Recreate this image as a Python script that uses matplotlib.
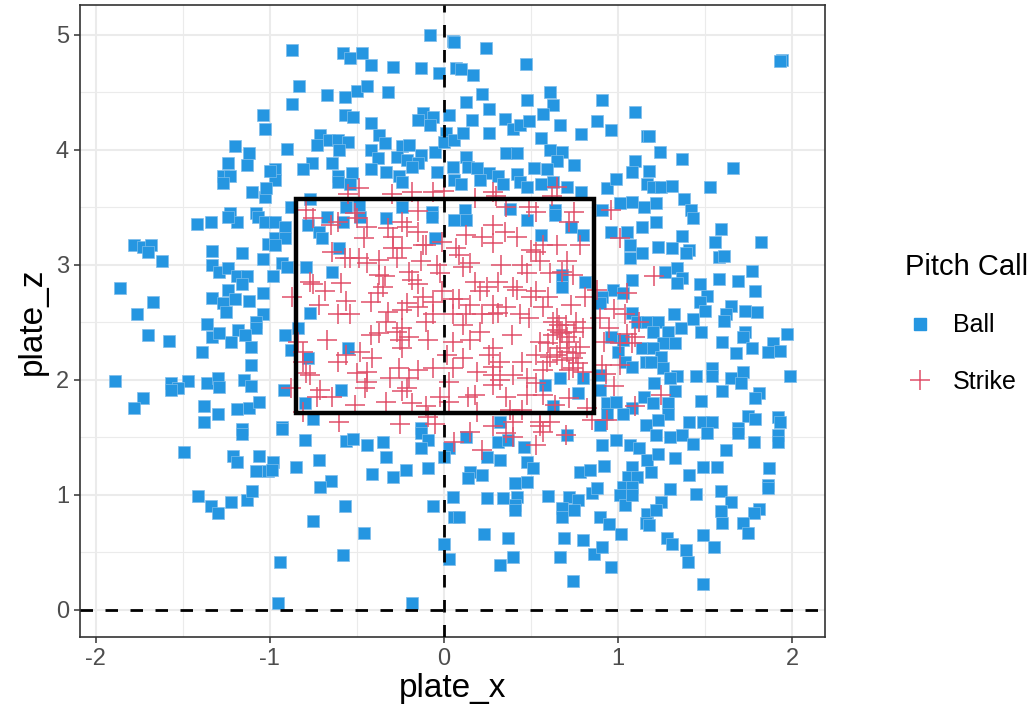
import matplotlib
matplotlib.use('Agg')
import matplotlib.pyplot as plt
from matplotlib.lines import Line2D
from matplotlib.patches import Rectangle
from matplotlib.ticker import MultipleLocator

BALL_COLOR = '#2596e1'
STRIKE_COLOR = '#e0506a'
GRID = '#ebebeb'
INK_2 = '#4d4d4d'

# strike zone edges (plate_x, plate_z)
ZONE_X = [-0.85, 0.86]
ZONE_Z = [1.71, 3.57]

ball_x = [
    1.94, -0.08, 0.05, -0.87, -0.58, -0.47, -0.54, -0.42, -0.29, -0.13, -0.03, 0.06, 0.07,
    -0.83, -0.67, -0.87, -0.57, -0.50, -0.44, -0.32, -0.57, -0.52, -0.42, -0.12, -0.06, -0.15,
    -0.08, 0.03, -0.37, -0.34, -0.71, -0.73, -0.66, -0.61, -0.55, -0.60, -0.90, -0.42, -0.38,
    -0.24, -0.20, -0.13, -0.27, -0.21, -0.15, -0.05, 0.01, 0.00, 0.06, -0.76, -0.81, -0.64,
    -0.42, -0.33, -0.26, -0.18, -0.04, 0.05, -0.61, -0.53, -0.61, -0.54, -0.24, 0.06, -0.97,
    -0.97, -0.88, -0.77, -0.56, -0.49, -0.24, -0.07,
    0.24, 0.47, 0.10, 0.17, 0.22, 0.13, 0.26, 0.48, 0.61, 0.63, 0.57, 0.91, 1.10, 0.35, 0.40,
    0.44, 0.49, 0.67, 0.88, 0.96, 0.79, 0.26, 0.16, 0.11, 0.56, 1.17, 0.36, 0.42, 0.61, 0.68,
    0.65, 0.13, 0.14, 0.19, 0.75, 0.52, 0.59, 1.10, 1.08, 0.26, 0.31, 0.21, 0.42, 0.34, 0.44,
    0.48, 0.56, 0.63, 0.71, 0.79, 0.94, 0.99, 1.17, 0.10, 1.01, 1.08, 1.15, 0.91, 0.64, 0.38,
    0.12,
    1.93, 1.18, 1.24, 1.37, 1.66, 1.18, 1.20, 1.25, 1.31, 1.53, 1.22, 1.38, 1.42,
    -1.04, -1.03, -1.20, -1.12, -1.13, -1.24, -1.27, -1.23, -1.27, -1.00, -1.10, -1.03, -1.02,
    -1.23, -1.08,
    -1.42, -1.34, -1.19, -1.24, -1.07, -1.03, -1.78, -1.73, -1.68, -1.70, -1.62, -1.33, -1.16,
    -1.04, -1.01, -1.33, -1.29, -1.24, -1.19, -1.13, -1.16, -1.24, -1.86, -1.67, -1.76, -1.33,
    -1.27, -1.20, -1.12, -1.25, -1.04, -1.04, -1.08, -1.08, -1.36, -1.33, -1.29, -1.18, -1.22,
    -1.14, -1.11, -1.70, -1.58, -1.39, -1.11, -1.89, -1.57, -1.47, -1.53, -1.57, -1.36, -1.30,
    -1.29, -1.15, -1.11, -1.73, -1.78, -1.38, -1.30, -1.19, -1.12, -1.06, -1.38, -1.16,
    -0.97, -0.91, -0.97, -0.91, -0.97, -0.78, -0.72, -0.70, -0.67, -0.58, -0.48, -0.33, -0.07,
    -0.05, 0.06, -0.60, -0.79, -0.93, -0.90, -0.64, -0.98, -0.77, -0.84, -0.91, -0.88, -0.78,
    -0.55, -0.92, -0.59, -0.80, -0.75, -0.93, -0.13,
    0.13, 0.48, 0.64, 0.73, 0.56, 0.80, 0.96, 1.05, 1.14, 1.07, 1.14, 1.07, 0.68, 0.68, 0.81,
    1.08, 0.97, 1.03, 0.91, 0.90, 1.08, 1.11, 1.17, 0.96, 1.03, 1.00, 1.04, 1.08, 1.14, 1.16,
    0.90, 0.67, 0.80, 0.77, 0.58, 0.90, 0.94, 0.99, 1.15, 1.08, 0.94, 1.03, 0.32, 0.63, 1.16,
    0.90,
    1.43, 1.22, 1.59, 1.37, 1.56, 1.82, 1.23, 1.31, 1.41, 1.39, 1.58, 1.61, 1.77, 1.27, 1.34,
    1.37, 1.34, 1.47, 1.58, 1.69, 1.79, 1.51, 1.47, 1.50, 1.65, 1.62, 1.61, 1.73, 1.80, 1.32,
    1.43, 1.23, 1.36, 1.29, 1.20, 1.48, 1.73, 1.72, 1.97, 1.60, 1.33, 1.26, 1.20, 1.77, 1.89,
    1.93, 1.86, 1.68, 1.25, 1.19, 1.26, 1.54, 1.54, 1.45, 1.34, 1.30, 1.72, 1.99, 1.65, 1.71,
    1.60, 1.81, 1.79, 1.21, 1.33, 1.29, 1.48, 1.20, 1.75, 1.79, 1.92, 1.93, 1.41, 1.49, 1.54,
    1.29, 1.23, 1.69,
    -1.49, -1.16, -1.21, -1.19, -1.06, -1.08, -1.01, -1.41, -1.34, -1.30, -1.22, -1.13, -1.10,
    -0.93, -0.80, -0.56, -0.52, -0.44, -0.35, -0.13, -0.09, -0.13, 0.03, 0.00, -0.98, -0.99,
    -0.85, -0.72, -0.33, -0.65, -0.71, -0.41, -0.29, -0.22, -0.09, -0.57, -0.06, 0.05, 0.06,
    -0.75, -0.46, 0.00, 0.03, -0.58, -0.94, -0.95, -0.18,
    0.13, 0.31, 0.37, 0.25, 0.32, 0.46, 0.48, 0.51, 0.71, 0.91, 0.99, 1.07, 1.12, 0.15, 0.14,
    0.22, 0.78, 0.84, 0.92, 1.08, 1.06, 1.11, 1.03, 1.08, 1.01, 1.04, 1.08, 1.17, 1.17, 1.16,
    0.41, 0.48, 0.25, 0.34, 0.42, 0.41, 0.41, 0.60, 0.72, 0.77, 0.68, 0.75, 0.68, 0.85, 0.88,
    0.90, 0.95, 1.02, 0.09, 0.23, 0.37, 0.69, 0.80, 0.40, 0.32, 0.67, 0.86, 0.91, 0.96, 0.74,
    1.22, 1.30, 1.37, 1.43, 1.51, 1.69, 1.78, 1.92, 1.92, 1.62, 1.23, 1.33, 1.19, 1.41, 1.49,
    1.57, 1.87, 1.86, 1.86, 1.30, 1.45, 1.59, 1.25, 1.65, 1.22, 1.59, 1.60, 1.81, 1.78, 1.72,
    1.75, 1.18, 1.28, 1.31, 1.39, 1.40, 1.49, 1.55, 1.49,
]
ball_z = [
    4.78, 5.00, 4.95, 4.87, 4.84, 4.84, 4.80, 4.74, 4.72, 4.71, 4.67, 4.94, 4.71,
    4.56, 4.48, 4.40, 4.46, 4.51, 4.56, 4.50, 4.30, 4.29, 4.23, 4.32, 4.29, 4.26,
    4.22, 4.30, 4.13, 4.06, 4.13, 4.04, 4.09, 4.09, 4.07, 4.00, 4.01, 4.00, 3.93,
    4.03, 4.04, 3.96, 3.94, 3.91, 3.89, 3.98, 4.15, 4.07, 4.09, 3.89, 3.83, 3.89,
    3.83, 3.81, 3.77, 3.85, 3.81, 3.85, 3.77, 3.80, 3.72, 3.70, 3.72, 3.74, 3.83,
    3.74, 3.50, 3.57, 3.50, 3.52, 3.50, 3.46,
    4.89, 4.75, 4.70, 4.65, 4.49, 4.42, 4.36, 4.43, 4.50, 4.39, 4.31, 4.43, 4.33, 4.27, 4.18,
    4.22, 4.25, 4.22, 4.25, 4.17, 4.14, 4.15, 4.26, 4.15, 4.10, 4.12, 3.97, 3.97, 4.00, 3.98,
    3.90, 3.94, 3.85, 3.84, 3.87, 3.84, 3.83, 3.90, 3.81, 3.80, 3.77, 3.74, 3.79, 3.70, 3.72,
    3.68, 3.70, 3.72, 3.68, 3.63, 3.67, 3.75, 3.70, 3.70, 3.54, 3.55, 3.50, 3.48, 3.48, 3.49,
    3.48,
    4.77, 4.12, 3.98, 3.92, 3.84, 3.82, 3.68, 3.68, 3.69, 3.68, 3.54, 3.57, 3.48,
    4.30, 4.18, 4.03, 3.97, 3.87, 3.89, 3.77, 3.77, 3.71, 3.82, 3.63, 3.59, 3.67,
    3.45, 3.45,
    3.36, 3.37, 3.37, 3.42, 3.42, 3.37, 3.17, 3.16, 3.17, 3.11, 3.03, 3.12, 3.10,
    3.05, 3.18, 3.00, 2.94, 2.97, 2.90, 2.90, 2.83, 2.78, 2.80, 2.68, 2.57, 2.71,
    2.67, 2.70, 2.69, 2.59, 2.76, 2.57, 2.50, 2.45, 2.49, 2.37, 2.41, 2.43, 2.33,
    2.39, 2.29, 2.39, 2.34, 2.24, 2.13, 1.99, 1.97, 1.99, 1.93, 1.91, 1.97, 2.02,
    1.94, 2.00, 1.95, 1.84, 1.76, 1.77, 1.70, 1.75, 1.76, 1.81, 1.63, 1.57,
    3.37, 3.33, 3.23, 3.23, 3.17, 3.35, 3.29, 3.23, 3.42, 3.37, 3.42, 3.41, 3.42,
    3.23, 3.39, 3.15, 2.98, 3.02, 2.98, 2.94, 2.90, 2.58, 2.45, 2.39, 2.26, 2.19,
    2.28, 1.91, 1.91, 1.80, 1.66, 1.59, 1.58,
    3.39, 3.39, 3.43, 3.33, 3.26, 3.26, 3.29, 3.29, 3.33, 3.17, 3.10, 3.06, 2.91, 2.81, 2.85,
    2.87, 2.78, 2.76, 2.72, 2.67, 2.58, 2.50, 2.50, 2.37, 2.35, 2.24, 2.16, 2.11, 2.28, 2.16,
    2.04, 2.02, 2.02, 1.89, 1.96, 1.91, 1.80, 1.81, 1.85, 1.76, 1.70, 1.70, 1.63, 1.77, 1.61,
    1.61,
    3.41, 3.37, 3.31, 3.25, 3.20, 3.20, 3.16, 3.15, 3.13, 3.10, 3.07, 3.08, 2.95, 2.94, 2.97,
    2.89, 2.84, 2.83, 2.88, 2.86, 2.77, 2.73, 2.68, 2.60, 2.64, 2.57, 2.51, 2.60, 2.59, 2.57,
    2.53, 2.50, 2.45, 2.42, 2.42, 2.42, 2.42, 2.37, 2.40, 2.33, 2.32, 2.32, 2.28, 2.28, 2.32,
    2.25, 2.24, 2.23, 2.20, 2.16, 2.10, 2.10, 2.03, 2.03, 2.03, 2.02, 2.07, 2.03, 2.02, 1.97,
    1.90, 1.89, 1.84, 1.97, 1.90, 1.80, 1.82, 1.80, 1.69, 1.66, 1.68, 1.63, 1.63, 1.63, 1.63,
    1.70, 1.65, 1.58,
    1.37, 1.53, 1.34, 1.29, 1.34, 1.21, 1.21, 0.99, 0.90, 0.84, 0.94, 0.96, 1.03,
    1.57, 1.48, 1.47, 1.49, 1.43, 1.46, 1.54, 1.48, 1.41, 1.41, 1.33, 1.29, 1.22,
    1.24, 1.30, 1.33, 1.12, 1.07, 1.18, 1.16, 1.22, 1.23, 0.90, 0.90, 0.98, 0.81,
    0.77, 0.67, 0.57, 0.44, 0.48, 0.42, 0.06, 0.06,
    1.50, 1.46, 1.48, 1.33, 1.30, 1.42, 1.29, 1.23, 1.52, 1.43, 1.48, 1.43, 1.41, 1.20, 1.15,
    1.17, 1.20, 1.22, 1.25, 1.24, 1.16, 1.16, 1.07, 1.07, 1.00, 0.91, 1.00, 1.30, 0.83, 0.76,
    1.10, 1.11, 0.97, 0.97, 0.98, 0.91, 0.87, 0.99, 0.98, 0.96, 0.89, 0.87, 0.81, 1.02, 1.06,
    0.81, 0.75, 0.66, 0.81, 0.66, 0.63, 0.63, 0.61, 0.46, 0.39, 0.46, 0.49, 0.55, 0.37, 0.25,
    1.52, 1.50, 1.52, 1.44, 1.54, 1.54, 1.46, 1.52, 1.46, 1.39, 1.36, 1.32, 1.20, 1.17, 1.24,
    1.24, 1.23, 1.09, 1.06, 1.05, 1.01, 1.03, 0.94, 0.94, 0.87, 0.86, 0.76, 0.88, 0.84, 0.76,
    0.67, 0.74, 0.63, 0.57, 0.52, 0.42, 0.65, 0.55, 0.23,
]

strike_x = [
    -0.49, -0.18, -0.06, -0.79, -0.51, -0.15, 0.18, 0.28, 0.65, 0.49, 0.53, 0.96, 0.75, 0.36,
    -0.65, -0.50, -0.44, -0.32, -0.21, -0.15, -0.12, -0.24, -0.29, -0.27, -0.37, -0.64, -0.57,
    -0.49, -0.44, -0.13, -0.04, -0.02, -0.34, -0.18, -0.75, -0.59, -0.35, -0.38, -0.87, -0.56,
    -0.72, -0.12, -0.06, -0.21, -0.24, -0.15, -0.32, -0.61, -0.54, -0.06, -0.10, -0.24, -0.27,
    -0.37, -0.42, -0.20, -0.67, -0.25, -0.09, -0.24, -0.48, -0.56, -0.61, -0.81, -0.26, -0.15,
    -0.06, -0.44, -0.50, -0.79, -0.31, -0.20, -0.44, -0.45, -0.21, -0.24, -0.71, -0.88, -0.73,
    -0.64, -0.02, -0.33, -0.18, -0.51, -0.10, -0.81, -0.60, -0.09, 0.02, 0.05, 0.03, 0.05,
    0.05, 0.07, -0.01, -0.10, -0.29, -0.24, -0.61,
    0.13, 0.22, 0.28, 0.35, 0.42, 0.50, 0.53, 0.65, 0.78, 0.71, 0.15, 0.33, 0.48, 0.61, 0.74,
    0.18, 0.25, 0.31, 0.40, 0.42, 0.53, 0.60, 0.50, 0.09, 0.15, 0.28, 0.36, 0.73, 0.81, 0.13,
    0.28, 0.31, 0.49, 0.65, 0.66, 0.70, 0.76, 0.80, 0.65, 0.68, 0.71, 0.75, 0.39, 0.15, 0.55,
    0.60, 0.67, 0.78, 0.26, 0.45, 0.61, 0.68, 0.74, 0.77, 0.28, 0.19, 0.28, 0.32, 0.48, 0.57,
    0.72, 0.80, 0.53, 0.28, 0.14, 0.18, 0.36, 0.48, 0.57, 0.72, 0.64, 0.38, 0.45, 0.19, 0.40,
    0.55, 0.61, 0.82, 0.88, 0.90, 1.04, 1.12, 1.05, 0.92, 1.01, 1.08, 1.01, 0.91, 1.10, 0.94,
    1.01, 0.68, 0.09,
    0.53, 0.36, 0.22, 0.57, 0.06, 1.21, 1.25,
    0.63, 0.67, 0.72, 0.63, 0.76, 0.71, 0.65, 0.74, 0.59, 0.53,
    0.11, 0.21, 0.22, 0.11, 0.21, 0.28, 0.11, 0.32, 0.40, 0.44, 0.57, 0.45, 0.55, 0.57, 0.28,
    0.72,
    -0.81, -0.84, -0.77, -0.37, -0.15, -0.42, -0.33, -0.01, 0.05, 0.03, -0.41, -0.68, -0.77,
    -0.46, -0.54, -0.20, -0.75,
    0.15, 0.40, 0.55, 0.70, 0.28, -0.05, 0.85, -0.25,
    0.95, 1.05, 0.98, 1.10, 0.93, 0.98,
    -0.55, 0.00, 0.30, -0.30, 0.62,
]
strike_z = [
    3.67, 3.63, 3.63, 3.48, 3.45, 3.47, 3.58, 3.63, 3.68, 3.50, 3.46, 3.48, 3.46, 3.50,
    3.35, 3.41, 3.33, 3.32, 3.33, 3.29, 3.17, 3.15, 3.15, 3.06, 3.04, 3.11, 3.06,
    3.06, 3.02, 3.03, 3.00, 2.93, 2.90, 2.87, 2.83, 2.84, 2.81, 2.76, 2.72, 2.69,
    2.65, 2.72, 2.68, 2.67, 2.61, 2.63, 2.59, 2.57, 2.57, 2.57, 2.50, 2.45, 2.42,
    2.41, 2.39, 2.37, 2.35, 2.35, 2.35, 2.28, 2.24, 2.22, 2.16, 2.24, 2.10, 2.09,
    2.10, 2.07, 2.06, 2.06, 2.02, 2.02, 1.98, 1.93, 1.93, 1.90, 1.91, 1.93, 1.85,
    1.85, 1.85, 1.81, 1.80, 1.78, 1.77, 1.72, 1.63, 1.68, 2.22, 2.10, 1.98, 2.70,
    2.57, 3.15, 3.20, 3.17, 3.24, 3.37, 3.37,
    3.26, 3.24, 3.19, 3.29, 3.24, 3.13, 3.11, 3.17, 3.17, 3.03, 3.02, 3.00, 2.93, 2.93, 2.91,
    2.85, 2.81, 2.85, 2.81, 2.78, 2.77, 2.72, 2.72, 2.70, 2.65, 2.65, 2.63, 2.65, 2.72, 2.57,
    2.57, 2.58, 2.54, 2.54, 2.48, 2.48, 2.50, 2.45, 2.43, 2.41, 2.37, 2.42, 2.39, 2.35, 2.33,
    2.32, 2.28, 2.29, 2.22, 2.16, 2.20, 2.17, 2.19, 2.15, 2.11, 2.07, 2.04, 2.00, 2.02, 2.09,
    2.09, 2.07, 1.97, 1.96, 1.85, 1.87, 1.85, 1.87, 1.87, 1.84, 1.78, 1.74, 1.74, 1.72, 1.63,
    1.63, 1.63, 1.76, 2.78, 2.54, 2.57, 2.50, 2.76, 2.33, 2.32, 2.32, 2.13, 2.13, 1.77, 1.65,
    3.23, 2.94, 3.09,
    1.43, 1.54, 1.39, 1.55, 1.46, 2.90, 1.87,
    2.50, 2.42, 2.33, 2.39, 2.23, 2.24, 2.22, 2.10, 2.16, 2.22,
    2.98, 2.77, 2.57, 2.48, 2.42, 2.28, 2.19, 2.16, 2.04, 2.57, 2.63, 3.00, 3.03, 3.17, 3.35,
    3.37,
    2.16, 2.33, 2.04, 2.91, 2.83, 2.68, 2.50, 2.77, 2.33, 1.81, 2.19, 2.77, 2.85,
    3.23, 3.06, 2.94, 3.41,
    1.55, 1.50, 1.60, 1.52, 1.60, 1.62, 1.65, 1.62,
    2.45, 2.40, 2.62, 2.37, 2.05, 1.95,
    3.62, 3.64, 3.60, 3.62, 3.60,
]

plt.rcParams.update({
    'font.family': ['Liberation Sans', 'DejaVu Sans'],
})

fig = plt.figure(figsize=(10.34, 7.25), dpi=100)
ax = fig.add_axes([0.0774, 0.1214, 0.7205, 0.8717])

ax.scatter(ball_x, ball_z, marker='s', s=85, color=BALL_COLOR,
           edgecolors='#7fbdea', linewidths=0.5, zorder=3)
ax.scatter(strike_x, strike_z, marker='+', s=200, color=STRIKE_COLOR,
           linewidths=1.1, zorder=4)

ax.axvline(0, color='black', linestyle=(0, (4.5, 4.5)), linewidth=2.0, zorder=5)
ax.axhline(0, color='black', linestyle=(0, (4.5, 4.5)), linewidth=2.0, zorder=5)
ax.add_patch(Rectangle((ZONE_X[0], ZONE_Z[0]), ZONE_X[1] - ZONE_X[0], ZONE_Z[1] - ZONE_Z[0],
                       fill=False, edgecolor='black', linewidth=3.2, zorder=6))

ax.set_xlim(-2.09, 2.19)
ax.set_ylim(-0.235, 5.26)
ax.xaxis.set_major_locator(MultipleLocator(1))
ax.xaxis.set_minor_locator(MultipleLocator(0.5))
ax.yaxis.set_major_locator(MultipleLocator(1))
ax.yaxis.set_minor_locator(MultipleLocator(0.5))
ax.grid(which='major', color=GRID, linewidth=1.5)
ax.grid(which='minor', color=GRID, linewidth=0.8)
ax.set_axisbelow(True)
for spine in ax.spines.values():
    spine.set_color('#333333')
    spine.set_linewidth(1.2)
ax.tick_params(which='major', length=4, width=1.1, color='#333333',
               labelsize=17, labelcolor=INK_2, pad=4)
ax.tick_params(which='minor', length=0)
ax.set_xticks([-2, -1, 0, 1, 2])
ax.set_xticklabels(['-2', '-1', '0', '1', '2'])
ax.set_xlabel('plate_x', fontsize=24, labelpad=2)
ax.set_ylabel('plate_z', fontsize=24, labelpad=6)

handles = [
    Line2D([], [], marker='s', linestyle='none', markersize=9, color=BALL_COLOR,
           label='Ball'),
    Line2D([], [], marker='+', linestyle='none', markersize=14, color=STRIKE_COLOR,
           markeredgewidth=1.1, label='Strike'),
]
fig.legend(handles=handles, title='Pitch Call', loc='upper left',
           bbox_to_anchor=(0.866, 0.665), frameon=False, fontsize=18,
           title_fontsize=21, handletextpad=0.7, labelspacing=1.3,
           handlelength=1.2, borderaxespad=0, alignment='left')

fig.savefig('out.png', dpi=100)
